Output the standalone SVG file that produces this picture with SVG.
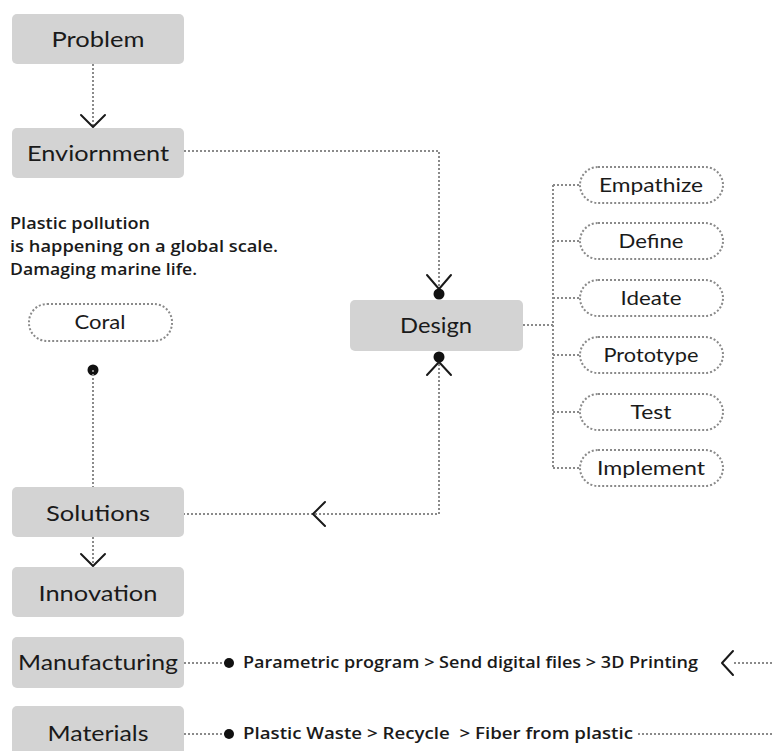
<svg xmlns="http://www.w3.org/2000/svg" width="774" height="751" viewBox="0 0 774 751">
  <style>
    .box { fill: #d3d3d3; }
    .pill { fill: none; stroke: #8a8a8a; stroke-width: 2; stroke-dasharray: 2 2; }
    .lbl { font-family: Lato, "Liberation Sans", sans-serif; font-size: 21px; fill: #1a1a1a; text-anchor: middle; }
    .plbl { font-family: Lato, "Liberation Sans", sans-serif; font-size: 19px; fill: #1a1a1a; text-anchor: middle; }
    .note { font-family: "Open Sans", "Liberation Sans", sans-serif; font-weight: 600; font-size: 17px; fill: #1a1a1a; white-space: pre; }
    .dot { fill: none; stroke: #8a8a8a; stroke-width: 2; stroke-dasharray: 2 2; }
    .arr { fill: none; stroke: #1a1a1a; stroke-width: 2; stroke-linecap: round; stroke-linejoin: round; }
    .blob { fill: #111; }
  </style>

  <g id="connectors">
    <line class="dot" x1="93" y1="64" x2="93" y2="126"/>
    <path class="arr" d="M81 115 L93 127 L105 115"/>

    <path class="dot" d="M184 151 H439 V288"/>
    <path class="arr" d="M427 275 L439 289 L451 275"/>
    <circle class="blob" cx="439" cy="294" r="5.5"/>

    <circle class="blob" cx="439" cy="357" r="5.5"/>
    <path class="arr" d="M427 375 L439 362 L451 375"/>
    <path class="dot" d="M439 364 V514 H184"/>
    <path class="arr" d="M325 502 L313 514 L325 526"/>

    <circle class="blob" cx="93" cy="370" r="5.5"/>
    <line class="dot" x1="93" y1="370" x2="93" y2="487"/>

    <line class="dot" x1="93" y1="537" x2="93" y2="565"/>
    <path class="arr" d="M81 554 L93 566 L105 554"/>

    <line class="dot" x1="523" y1="325" x2="553" y2="325"/>
    <line class="dot" x1="553" y1="185" x2="553" y2="468"/>
    <line class="dot" x1="553" y1="185" x2="580" y2="185"/>
    <line class="dot" x1="553" y1="241" x2="580" y2="241"/>
    <line class="dot" x1="553" y1="298" x2="580" y2="298"/>
    <line class="dot" x1="553" y1="355" x2="580" y2="355"/>
    <line class="dot" x1="553" y1="412" x2="580" y2="412"/>
    <line class="dot" x1="553" y1="468" x2="580" y2="468"/>

    <line class="dot" x1="184" y1="663" x2="227" y2="663"/>
    <circle class="blob" cx="229" cy="663" r="5"/>
    <path class="arr" d="M733 651 L722 663 L733 675"/>
    <line class="dot" x1="734" y1="663" x2="774" y2="663"/>

    <line class="dot" x1="184" y1="734" x2="227" y2="734"/>
    <circle class="blob" cx="229" cy="734" r="5"/>
    <line class="dot" x1="638" y1="734" x2="774" y2="734"/>
  </g>

  <g id="problem">
    <rect class="box" x="12" y="14" width="172" height="50" rx="5"/>
    <text class="lbl" x="98" y="47" textLength="93" lengthAdjust="spacingAndGlyphs">Problem</text>
  </g>
  <g id="enviornment">
    <rect class="box" x="12" y="128" width="172" height="50" rx="5"/>
    <text class="lbl" x="98" y="161" textLength="142" lengthAdjust="spacingAndGlyphs">Enviornment</text>
  </g>
  <g id="note">
    <text class="note" x="10" y="229" textLength="140" lengthAdjust="spacingAndGlyphs">Plastic pollution</text>
    <text class="note" x="10" y="252" textLength="268" lengthAdjust="spacingAndGlyphs">is happening on a global scale.</text>
    <text class="note" x="10" y="275" textLength="187" lengthAdjust="spacingAndGlyphs">Damaging marine life.</text>
  </g>
  <g id="coral">
    <rect class="pill" x="29" y="304" width="143" height="37" rx="18"/>
    <text class="plbl" x="100" y="329" textLength="51" lengthAdjust="spacingAndGlyphs">Coral</text>
  </g>
  <g id="design">
    <rect class="box" x="350" y="300" width="173" height="51" rx="5"/>
    <text class="lbl" x="436" y="333" textLength="72" lengthAdjust="spacingAndGlyphs">Design</text>
  </g>
  <g id="empathize">
    <rect class="pill" x="580" y="167" width="143" height="36" rx="18"/>
    <text class="plbl" x="651" y="192" textLength="104" lengthAdjust="spacingAndGlyphs">Empathize</text>
  </g>
  <g id="define">
    <rect class="pill" x="580" y="223" width="143" height="36" rx="18"/>
    <text class="plbl" x="651" y="248" textLength="65" lengthAdjust="spacingAndGlyphs">Define</text>
  </g>
  <g id="ideate">
    <rect class="pill" x="580" y="280" width="143" height="36" rx="18"/>
    <text class="plbl" x="651" y="305" textLength="61" lengthAdjust="spacingAndGlyphs">Ideate</text>
  </g>
  <g id="prototype">
    <rect class="pill" x="580" y="337" width="143" height="36" rx="18"/>
    <text class="plbl" x="651" y="362" textLength="95" lengthAdjust="spacingAndGlyphs">Prototype</text>
  </g>
  <g id="test">
    <rect class="pill" x="580" y="394" width="143" height="36" rx="18"/>
    <text class="plbl" x="651" y="419" textLength="41" lengthAdjust="spacingAndGlyphs">Test</text>
  </g>
  <g id="implement">
    <rect class="pill" x="580" y="450" width="143" height="36" rx="18"/>
    <text class="plbl" x="651" y="475" textLength="108" lengthAdjust="spacingAndGlyphs">Implement</text>
  </g>
  <g id="solutions">
    <rect class="box" x="12" y="487" width="172" height="50" rx="5"/>
    <text class="lbl" x="98" y="521" textLength="104" lengthAdjust="spacingAndGlyphs">Solutions</text>
  </g>
  <g id="innovation">
    <rect class="box" x="12" y="567" width="172" height="50" rx="5"/>
    <text class="lbl" x="98" y="601" textLength="119" lengthAdjust="spacingAndGlyphs">Innovation</text>
  </g>
  <g id="manufacturing">
    <rect class="box" x="12" y="637" width="172" height="51" rx="5"/>
    <text class="lbl" x="98" y="670" textLength="160" lengthAdjust="spacingAndGlyphs">Manufacturing</text>
    <text class="note" x="243" y="668" textLength="455" lengthAdjust="spacingAndGlyphs">Parametric program &gt; Send digital files &gt; 3D Printing</text>
  </g>
  <g id="materials">
    <rect class="box" x="12" y="706" width="172" height="55" rx="5"/>
    <text class="lbl" x="98" y="741" textLength="101" lengthAdjust="spacingAndGlyphs">Materials</text>
    <text class="note" x="243" y="739" textLength="390" lengthAdjust="spacingAndGlyphs">Plastic Waste &gt; Recycle  &gt; Fiber from plastic</text>
  </g>
</svg>
